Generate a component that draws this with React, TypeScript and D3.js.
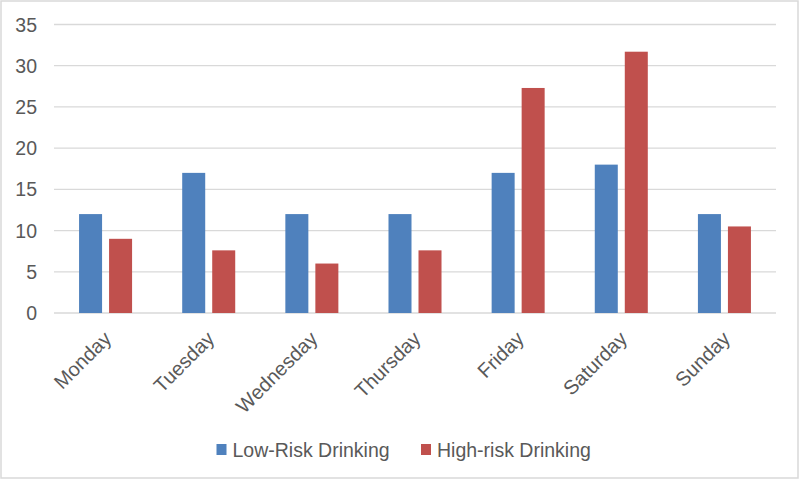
import React from "react";
import * as d3 from "d3";

const days = ["Monday", "Tuesday", "Wednesday", "Thursday", "Friday", "Saturday", "Sunday"];
const seriesNames = ["Low-Risk Drinking", "High-risk Drinking"];
const lowRisk = [12, 17, 12, 12, 17, 18, 12];
const highRisk = [9, 7.6, 6, 7.6, 27.3, 31.7, 10.5];
const yTicks = [0, 5, 10, 15, 20, 25, 30, 35];
const colors = ["#4F81BD", "#C0504D"];

const W = 800;
const H = 480;
const FONT = "Arial, 'Liberation Sans', sans-serif";
const TEXT = "#595959";
const GRID = "#D9D9D9";

export default function App() {
  const x0 = d3.scaleBand<string>().domain(days).range([54, 776]).paddingInner(0).paddingOuter(0);
  const groupW = x0.bandwidth() * 0.514;
  const y = d3.scaleLinear().domain([0, 35]).range([313, 24.5]);
  const values = [lowRisk, highRisk];

  return (
    <svg
      width={W}
      height={H}
      style={{ position: "absolute", left: 0, top: 0, background: "#fff" }}
      fontFamily={FONT}
    >
      <rect x={0} y={0} width={W} height={H} fill="#fff" />
      <rect x={1} y={1} width={W - 3} height={H - 3} fill="none" stroke={GRID} strokeWidth={1.5} />
      {yTicks.map((t) => (
        <g key={t}>
          <line x1={54} x2={776} y1={y(t)} y2={y(t)} stroke={GRID} strokeWidth={1.3} />
          <text x={37} y={y(t)} dy="0.36em" textAnchor="end" fontSize={19.5} fill={TEXT}>
            {t}
          </text>
        </g>
      ))}
      {days.map((d, i) => {
        const c = (x0(d) as number) + x0.bandwidth() / 2;
        const x1 = d3
          .scaleBand<string>()
          .domain(seriesNames)
          .range([c - groupW / 2, c + groupW / 2])
          .paddingInner(0.2333)
          .paddingOuter(0);
        return (
          <g key={d}>
            {seriesNames.map((s, j) => (
              <rect
                key={s}
                x={x1(s) as number}
                width={x1.bandwidth()}
                y={y(values[j][i])}
                height={y(0) - y(values[j][i])}
                fill={colors[j]}
              />
            ))}
            <text
              transform={`translate(${c + 2},${y(0) + 22}) rotate(-45)`}
              textAnchor="end"
              dy="0.35em"
              fontSize={20}
              fill={TEXT}
            >
              {d}
            </text>
          </g>
        );
      })}
      {seriesNames.map((s, j) => {
        const lx = j === 0 ? 216.5 : 421;
        return (
          <g key={s}>
            <rect x={lx} y={444} width={10} height={11} fill={colors[j]} />
            <text x={lx + 16} y={449.5} dy="0.36em" fontSize={19.5} fill={TEXT}>
              {s}
            </text>
          </g>
        );
      })}
    </svg>
  );
}
